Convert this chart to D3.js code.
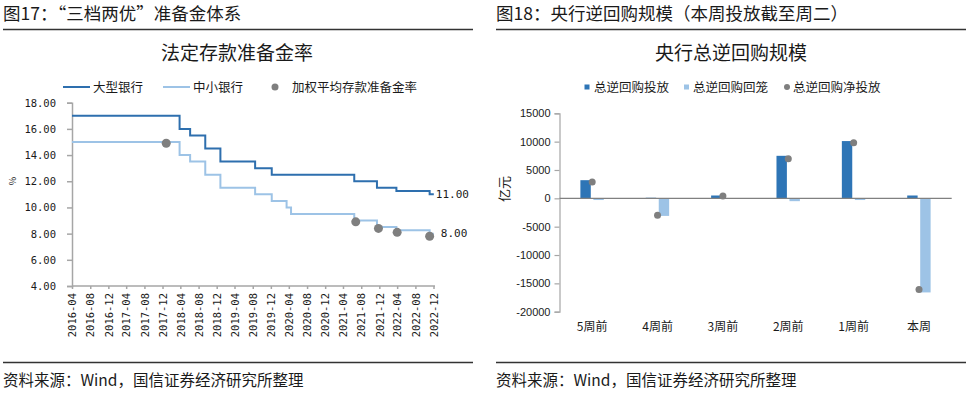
<!DOCTYPE html>
<html>
<head>
<meta charset="utf-8">
<script src="https://cdn.jsdelivr.net/npm/d3@7"></script>
<style>
  body { margin: 0; background: #fff; }
  text { font-family: "Noto Sans CJK SC", sans-serif; fill: #1a1a1a; }
  .mono text, text.mono { font-family: "DejaVu Sans Mono", monospace; }
  .arial text { font-family: "Liberation Sans", Arial, sans-serif; }
</style>
</head>
<body>
<div id="svg-area"></div>
<script>
// Figure 17: required reserve ratio (step changes, effective dates)
var rrrDates = ["2016-04-30", "2018-04-25", "2018-07-05", "2018-10-15", "2019-01-25", "2019-09-16",
  "2020-01-06", "2020-04-15", "2020-05-15", "2021-07-15", "2021-12-15", "2022-04-25", "2022-12-05", "2023-01-02"];
var largeBanks = [17, 16, 15.5, 14.5, 13.5, 13, 12.5, 12.5, 12.5, 12, 11.5, 11.25, 11, 11];
var smallBanks = [15, 14, 13.5, 12.5, 11.5, 11, 10.5, 10, 9.5, 9, 8.5, 8.25, 8, 8];
var avgDates = ["2018-01-25", "2021-07-25", "2021-12-25", "2022-04-30", "2022-12-05"];
var avgRates = [14.9, 8.9, 8.4, 8.1, 7.8];
var monthLabels = ["2016-04", "2016-08", "2016-12", "2017-04", "2017-08", "2017-12", "2018-04",
  "2018-08", "2018-12", "2019-04", "2019-08", "2019-12", "2020-04", "2020-08", "2020-12",
  "2021-04", "2021-08", "2021-12", "2022-04", "2022-08", "2022-12"];
var rrrTicks = [4, 6, 8, 10, 12, 14, 16, 18];

// Figure 18: PBoC reverse repo (100m yuan)
var weeks = ["5周前", "4周前", "3周前", "2周前", "1周前", "本周"];
var injection = [3200, 100, 500, 7500, 10100, 500];
var maturity = [-300, -3100, -100, -500, -300, -16600];
var netInjection = [2900, -3000, 400, 7000, 9800, -16100];
var repoTicks = [-20000, -15000, -10000, -5000, 0, 5000, 10000, 15000];

var darkBlue = "#2e6fae";
var lightBlue = "#9dc3e6";
var barDark = "#2e75b6";
var dotGrey = "#7f7f7f";
var axisGrey = "#a6a6a6";

var svg = d3.select("#svg-area").append("svg")
  .attr("width", 969)
  .attr("height", 395)
  .style("display", "block");

// header / footer frames
// ==============================
function frame(x0, x1, title, source) {
  svg.append("text")
    .attr("x", x0)
    .attr("y", 20)
    .style("font-size", "17.5px")
    .text(title);
  svg.append("line")
    .attr("x1", x0).attr("x2", x1)
    .attr("y1", 29.5).attr("y2", 29.5)
    .attr("stroke", "#333")
    .attr("stroke-width", 1.5);
  svg.append("line")
    .attr("x1", x0).attr("x2", x1)
    .attr("y1", 362.5).attr("y2", 362.5)
    .attr("stroke", "#333")
    .attr("stroke-width", 1.5);
  svg.append("text")
    .attr("x", x0)
    .attr("y", 386)
    .style("font-size", "15.5px")
    .text(source);
}
frame(3, 473, "图17：“三档两优”准备金体系", "资料来源：Wind，国信证券经济研究所整理");
frame(496, 966, "图18：央行逆回购规模（本周投放截至周二）", "资料来源：Wind，国信证券经济研究所整理");

// ==============================
// LEFT CHART
// ==============================
var parseDate = d3.timeParse("%Y-%m-%d");
var parseMonth = d3.timeParse("%Y-%m");
// tick labels sit at the month end
var tickDates = monthLabels.map(m => d3.timeDay.offset(d3.timeMonth.offset(parseMonth(m), 1), -1));

var xTime = d3.scaleTime()
  .domain([tickDates[0], tickDates[tickDates.length - 1]])
  .range([72, 433.5]);

var yRate = d3.scaleLinear()
  .domain([4, 18])
  .range([286, 102.7]);

var left = svg.append("g");

left.append("text")
  .attr("x", 237)
  .attr("y", 60)
  .attr("text-anchor", "middle")
  .style("font-size", "19px")
  .text("法定存款准备金率");

// legend
var legL = left.append("g").style("font-size", "12.5px");
legL.append("line").attr("x1", 63).attr("x2", 90).attr("y1", 87).attr("y2", 87)
  .attr("stroke", darkBlue).attr("stroke-width", 2);
legL.append("text").attr("x", 93).attr("y", 87).attr("dy", "0.36em").text("大型银行");
legL.append("line").attr("x1", 163).attr("x2", 190).attr("y1", 87).attr("y2", 87)
  .attr("stroke", lightBlue).attr("stroke-width", 2);
legL.append("text").attr("x", 193).attr("y", 87).attr("dy", "0.36em").text("中小银行");
legL.append("circle").attr("cx", 275).attr("cy", 87).attr("r", 3.5).attr("fill", dotGrey);
legL.append("text").attr("x", 292).attr("y", 87).attr("dy", "0.36em").text("加权平均存款准备金率");

// axes
var leftAxis = d3.axisLeft(yRate)
  .tickValues(rrrTicks)
  .tickSize(5)
  .tickPadding(11)
  .tickFormat(d3.format(".2f"));

var gy = left.append("g")
  .attr("class", "mono")
  .attr("transform", "translate(72,0)")
  .call(leftAxis);
gy.selectAll("path, line").attr("stroke", axisGrey).attr("stroke-width", 1.5);
gy.selectAll("text").style("font-size", "10.5px");

var bottomAxis = d3.axisBottom(xTime)
  .tickValues(tickDates)
  .tickSize(3)
  .tickFormat((d, i) => monthLabels[i]);

var gx = left.append("g")
  .attr("class", "mono")
  .attr("transform", "translate(0,286)")
  .call(bottomAxis);
gx.select(".domain").attr("d", "M72,0H435");
gx.selectAll("path, line").attr("stroke", axisGrey).attr("stroke-width", 1.5);
gx.selectAll("text")
  .style("font-size", "10.5px")
  .attr("transform", "rotate(-90)")
  .attr("x", -7)
  .attr("y", 0)
  .attr("dy", "0.35em")
  .attr("text-anchor", "end");

left.append("text")
  .attr("transform", "translate(16,181) rotate(-90)")
  .attr("text-anchor", "middle")
  .style("font-size", "9px")
  .text("%");

// step lines
var rrrData = rrrDates.map((d, i) => ({ date: parseDate(d), large: largeBanks[i], small: smallBanks[i] }));

var lineLarge = d3.line()
  .x(d => xTime(d.date))
  .y(d => yRate(d.large))
  .curve(d3.curveStepAfter);
var lineSmall = d3.line()
  .x(d => xTime(d.date))
  .y(d => yRate(d.small))
  .curve(d3.curveStepAfter);

left.append("path")
  .datum(rrrData)
  .attr("d", lineSmall)
  .attr("fill", "none")
  .attr("stroke", lightBlue)
  .attr("stroke-width", 2);

left.append("path")
  .datum(rrrData)
  .attr("d", lineLarge)
  .attr("fill", "none")
  .attr("stroke", darkBlue)
  .attr("stroke-width", 2);

// weighted average dots
left.selectAll("circle.avg")
  .data(avgDates.map((d, i) => ({ date: parseDate(d), v: avgRates[i] })))
  .enter()
  .append("circle")
  .attr("class", "avg")
  .attr("cx", d => xTime(d.date))
  .attr("cy", d => yRate(d.v))
  .attr("r", 4.5)
  .attr("fill", dotGrey);

// end labels
var lastPt = rrrData[rrrData.length - 1];
left.append("text")
  .attr("class", "mono")
  .attr("x", xTime(lastPt.date) + 2)
  .attr("y", yRate(lastPt.large))
  .attr("dy", "0.35em")
  .style("font-size", "11px")
  .text(d3.format(".2f")(lastPt.large));
left.append("text")
  .attr("class", "mono")
  .attr("x", xTime(lastPt.date) + 7)
  .attr("y", yRate(lastPt.small))
  .attr("dy", "0.35em")
  .style("font-size", "11px")
  .text(d3.format(".2f")(lastPt.small));

// ==============================
// RIGHT CHART
// ==============================
var right = svg.append("g");

right.append("text")
  .attr("x", 731)
  .attr("y", 60)
  .attr("text-anchor", "middle")
  .style("font-size", "19px")
  .text("央行总逆回购规模");

// legend
var legR = right.append("g").style("font-size", "12.5px");
legR.append("rect").attr("x", 584.5).attr("y", 84.5).attr("width", 5).attr("height", 5).attr("fill", barDark);
legR.append("text").attr("x", 594).attr("y", 87).attr("dy", "0.36em").text("总逆回购投放");
legR.append("rect").attr("x", 684).attr("y", 84.5).attr("width", 5).attr("height", 5).attr("fill", lightBlue);
legR.append("text").attr("x", 693).attr("y", 87).attr("dy", "0.36em").text("总逆回购回笼");
legR.append("circle").attr("cx", 787).attr("cy", 87).attr("r", 3).attr("fill", dotGrey);
legR.append("text").attr("x", 793).attr("y", 87).attr("dy", "0.36em").text("总逆回购净投放");

var yRepo = d3.scaleLinear()
  .domain([-20000, 15000])
  .range([311.7, 113.3]);

var x0 = d3.scaleBand()
  .domain(weeks)
  .range([559.5, 951.7]);

var x1 = d3.scaleBand()
  .domain(["in", "out"])
  .range([-11.8, 11.6])
  .paddingInner(0.2);

var gyR = right.append("g")
  .attr("class", "arial")
  .attr("transform", "translate(559.5,0)")
  .call(d3.axisLeft(yRepo).tickValues(repoTicks).tickSize(5).tickPadding(4).tickFormat(d => String(d)));
gyR.selectAll("path, line").attr("stroke", axisGrey).attr("stroke-width", 1.2);
gyR.selectAll("text").style("font-size", "11px");

var gxR = right.append("g")
  .attr("transform", "translate(0,311.7)")
  .call(d3.axisBottom(x0).tickSize(0).tickPadding(11));
gxR.select(".domain").remove();
gxR.selectAll("text").style("font-size", "12px").style("font-family", "'Noto Sans CJK SC', sans-serif");

right.append("text")
  .attr("transform", "translate(504,189) rotate(-90)")
  .attr("text-anchor", "middle")
  .attr("dy", "0.35em")
  .style("font-size", "13px")
  .text("亿元");

var repoData = weeks.map((w, i) => ({ week: w, inj: injection[i], mat: maturity[i], net: netInjection[i] }));

var groups = right.selectAll("g.week")
  .data(repoData)
  .enter()
  .append("g")
  .attr("class", "week")
  .attr("transform", d => `translate(${x0(d.week) + x0.bandwidth() / 2},0)`);

groups.append("rect")
  .attr("x", x1("in"))
  .attr("width", x1.bandwidth())
  .attr("y", d => yRepo(Math.max(0, d.inj)))
  .attr("height", d => Math.abs(yRepo(d.inj) - yRepo(0)))
  .attr("fill", barDark);

groups.append("rect")
  .attr("x", x1("out"))
  .attr("width", x1.bandwidth())
  .attr("y", d => yRepo(Math.max(0, d.mat)))
  .attr("height", d => Math.abs(yRepo(d.mat) - yRepo(0)))
  .attr("fill", lightBlue);

// zero line
right.append("line")
  .attr("x1", 559.5).attr("x2", 951.7)
  .attr("y1", yRepo(0)).attr("y2", yRepo(0))
  .attr("stroke", "#808080")
  .attr("stroke-width", 1.2);

groups.append("circle")
  .attr("cx", 0)
  .attr("cy", d => yRepo(d.net))
  .attr("r", 3.5)
  .attr("fill", dotGrey);
</script>
</body>
</html>
